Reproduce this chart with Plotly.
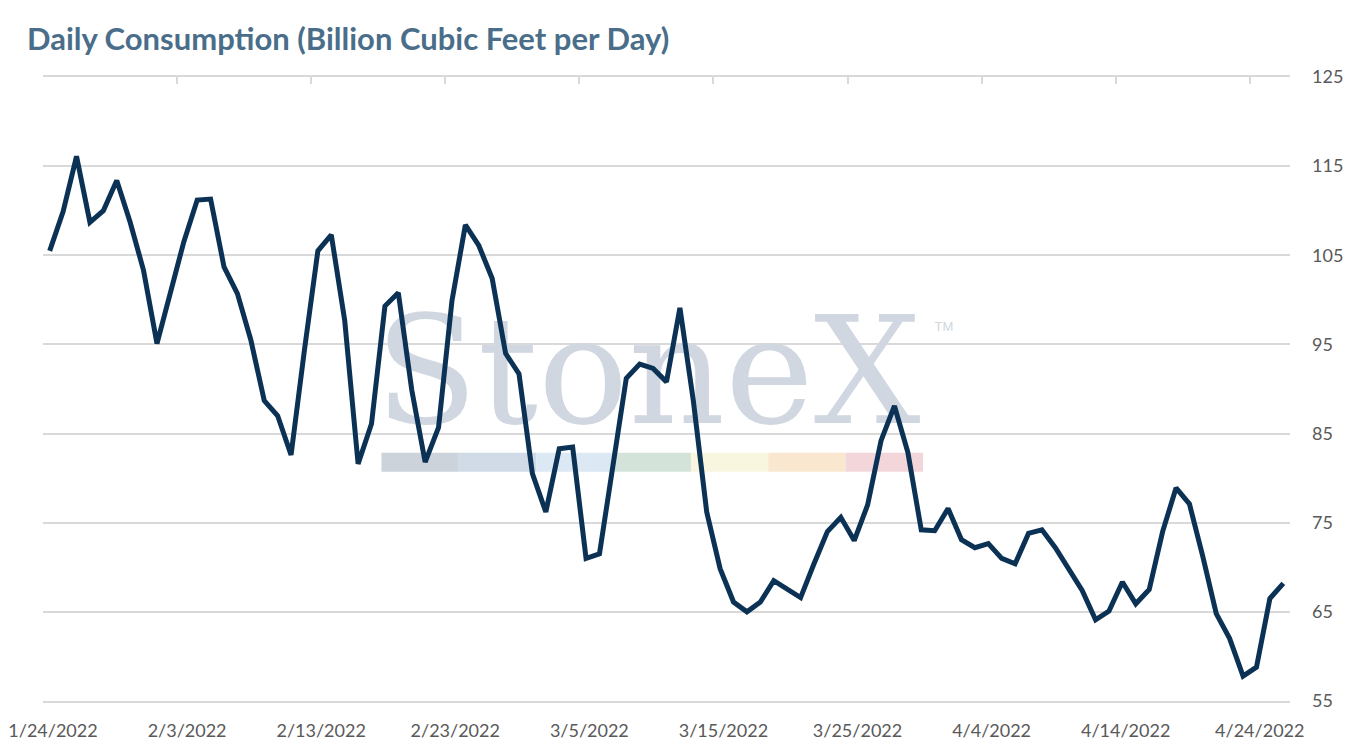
import plotly.graph_objects as go
import pandas as pd

# ---- data ----
start_date = "2022-01-24"
consumption = [
    105.5, 109.9, 116.1, 108.7, 110.0, 113.4, 108.7, 103.3, 95.1, 100.7,
    106.5, 111.2, 111.3, 103.7, 100.7, 95.5, 88.7, 87.0, 82.6, 94.4,
    105.5, 107.3, 97.7, 81.6, 86.1, 99.3, 100.8, 89.9, 81.8, 85.7,
    99.9, 108.4, 106.1, 102.4, 94.0, 91.7, 80.5, 76.2, 83.3, 83.5,
    71.0, 71.5, 81.6, 91.2, 92.8, 92.3, 90.8, 99.1, 88.7, 76.2,
    69.85, 66.1, 65.0, 66.1, 68.5, 67.6, 66.6, 70.4, 74.0, 75.6,
    73.0, 77.0, 84.2, 88.1, 82.9, 74.2, 74.1, 76.6, 73.1, 72.2,
    72.65, 71.0, 70.4, 73.8, 74.2, 72.2, 69.8, 67.4, 64.1, 65.1,
    68.35, 65.9, 67.5, 74.0, 78.9, 77.1, 71.2, 64.8, 62.0, 57.8,
    58.8, 66.5, 68.2,
]
dates = pd.date_range(start_date + " 12:00", periods=len(consumption), freq="D")
y_ticks = [55, 65, 75, 85, 95, 105, 115, 125]
title_text = "Daily Consumption (Billion Cubic Feet per Day)"
watermark_text = "StoneX"
bar_colors = ["#cdd3db", "#d0dbe7", "#dce9f4", "#d3e3da", "#f8f6de", "#f9e7d0", "#f2d6d9"]

DAY_MS = 86400000
x_range = ["2022-01-24", "2022-04-27"]
GRID = "#d9d9d9"

fig = go.Figure()

# watermark (decoration) on the hidden base axes, drawn beneath the data line
fig.add_trace(go.Scatter(
    x=[0.485], y=[0.505], xaxis="x", yaxis="y",
    mode="text", text=[watermark_text],
    textfont=dict(family="DejaVu Serif", size=150, color="#d0d7e0"),
    hoverinfo="skip", showlegend=False,
))
fig.add_trace(go.Scatter(
    x=[0.7225], y=[0.598], xaxis="x", yaxis="y",
    mode="text", text=["TM"],
    textfont=dict(family="Liberation Sans", size=13, color="#d0d7e0"),
    hoverinfo="skip", showlegend=False,
))

# data line on the visible date axes
fig.add_trace(go.Scatter(
    x=dates, y=consumption, xaxis="x2", yaxis="y2", mode="lines",
    line=dict(color="#0b3254", width=5),
    showlegend=False,
))
# helper trace so the top tick axis is drawn
fig.add_trace(go.Scatter(
    x=[dates[0]], y=[None], xaxis="x3", yaxis="y2", mode="lines",
    showlegend=False, hoverinfo="skip",
))

shapes = []
x0 = 0.2714
w = 0.06204
for i, c in enumerate(bar_colors):
    shapes.append(dict(
        type="rect", xref="paper", yref="paper",
        x0=x0 + i * w, x1=x0 + (i + 1) * w, y0=0.3675, y1=0.398,
        fillcolor=c, line=dict(width=0), layer="below",
    ))

fig.update_layout(
    width=1354, height=750,
    margin=dict(l=35, r=72, t=69, b=57, autoexpand=False),
    paper_bgcolor="white", plot_bgcolor="white",
    font=dict(family="Lato", color="#595959"),
    shapes=shapes,
    annotations=[dict(
        text="<b>" + title_text + "</b>", xref="paper", yref="paper",
        x=-0.0144, y=1.0625, xanchor="left", yanchor="middle", showarrow=False,
        font=dict(family="Lato", size=31, color="#4a6e8a"),
    )],
    xaxis=dict(domain=[0, 1], range=[0, 1], visible=False, automargin=False),
    yaxis=dict(domain=[0, 1], range=[0, 1], visible=False, automargin=False),
    xaxis2=dict(
        type="date", range=x_range, tick0=start_date, dtick=10 * DAY_MS,
        overlaying="x", anchor="y2", side="bottom",
        tickformat="%-m/%-d/%Y", showgrid=False, zeroline=False,
        showline=True, linecolor=GRID, linewidth=1.5,
        ticks="", tickfont=dict(size=18, color="#595959"),
        ticklabelstandoff=13, ticklabelshift=10, ticklabeloverflow="allow",
        automargin=False,
    ),
    xaxis3=dict(
        type="date", range=x_range, tick0=start_date, dtick=10 * DAY_MS,
        overlaying="x", side="top", anchor="y2", showgrid=False,
        showticklabels=False, ticks="inside", ticklen=7, tickwidth=1.5,
        tickcolor=GRID, showline=True, linecolor=GRID, linewidth=1.5,
        zeroline=False, automargin=False,
    ),
    yaxis2=dict(
        range=[55, 125], tickvals=y_ticks, side="right",
        overlaying="y", anchor="x2",
        showgrid=True, gridcolor=GRID, gridwidth=1.5,
        zeroline=False, showline=False, ticks="",
        tickfont=dict(size=18, color="#595959"), ticklabelstandoff=21,
        ticklabeloverflow="allow", automargin=False,
    ),
)

fig.write_html("out.html")
